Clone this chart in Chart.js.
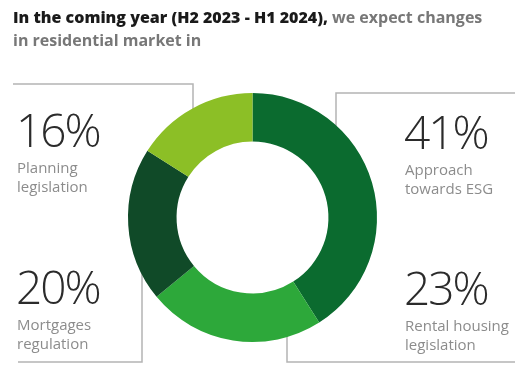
<!DOCTYPE html>
<html>
<head>
<meta charset="utf-8">
<script src="https://cdn.jsdelivr.net/npm/chart.js@4.4.0/dist/chart.umd.min.js"></script>
<style>
  html, body { margin: 0; padding: 0; background: #fff; }
  #wrap { position: relative; width: 527px; height: 375px; overflow: hidden; font-family: "Open Sans", sans-serif; }
  #chart { position: absolute; left: 0; top: 0; }
  .title { position: absolute; left: 13px; top: 6px; font-size: 16px; font-weight: 700; line-height: 23px; color: #777; }
  .title b { color: #1a1a1a; }
  .pct { position: absolute; font-size: 46px; font-weight: 300; letter-spacing: -2px; line-height: 1; color: #2b2b2b; }
  .lbl { position: absolute; font-size: 15px; line-height: 19px; color: #8c8c8c; }
</style>
</head>
<body>
<div id="wrap">
  <canvas id="chart" width="527" height="375"></canvas>
  <div class="title"><b>In the coming year (H2 2023 - H1 2024),</b> we expect changes<br>in residential market in</div>
  <div id="labels"></div>
</div>
<script>
// slices clockwise from 12 o'clock
const categories = ['Approach towards ESG', 'Rental housing legislation', 'Mortgages regulation', 'Planning legislation'];
const labelLines = [['Approach', 'towards ESG'], ['Rental housing', 'legislation'], ['Mortgages', 'regulation'], ['Planning', 'legislation']];
const shares = [41, 23, 20, 16];
const colors = ['#0b6b2f', '#2da83a', '#104a28', '#8cbf26'];

// where each callout text block sits (left, top of the number)
const labelPos = [[404, 108], [404, 264], [16, 263], [16, 106]];

const labelsEl = document.getElementById('labels');
categories.forEach((c, i) => {
  const p = document.createElement('div');
  p.className = 'pct';
  p.style.left = labelPos[i][0] + 'px';
  p.style.top = labelPos[i][1] + 'px';
  p.textContent = shares[i] + '%';
  labelsEl.appendChild(p);
  const l = document.createElement('div');
  l.className = 'lbl';
  l.style.left = (labelPos[i][0] + 1) + 'px';
  l.style.top = (labelPos[i][1] + 52) + 'px';
  l.innerHTML = labelLines[i].join('<br>');
  labelsEl.appendChild(l);
});

// bracket lines, running in under the ring but stopping before the hole
const brackets = {
  id: 'brackets',
  beforeDatasetsDraw(chart) {
    const ctx = chart.ctx;
    ctx.save();
    ctx.strokeStyle = '#b4b4b4';
    ctx.lineWidth = 1.5;
    const segs = [
      [[13, 84], [193, 84], [193, 135]],
      [[18, 362], [142, 362], [142, 262]],
      [[515, 93], [336, 93], [336, 150]],
      [[515, 362], [287, 362], [287, 310]]
    ];
    segs.forEach(s => {
      ctx.beginPath();
      ctx.moveTo(s[0][0], s[0][1]);
      for (let k = 1; k < s.length; k++) ctx.lineTo(s[k][0], s[k][1]);
      ctx.stroke();
    });
    ctx.restore();
  }
};

new Chart(document.getElementById('chart'), {
  type: 'doughnut',
  data: {
    labels: categories,
    datasets: [{
      data: shares,
      backgroundColor: colors,
      borderWidth: 0,
      hoverOffset: 0
    }]
  },
  options: {
    responsive: false,
    animation: false,
    cutout: '61%',
    rotation: 0,
    layout: { padding: { left: 128, right: 150, top: 93, bottom: 33 } },
    plugins: {
      legend: { display: false },
      tooltip: { enabled: false }
    }
  },
  plugins: [brackets]
});
</script>
</body>
</html>
